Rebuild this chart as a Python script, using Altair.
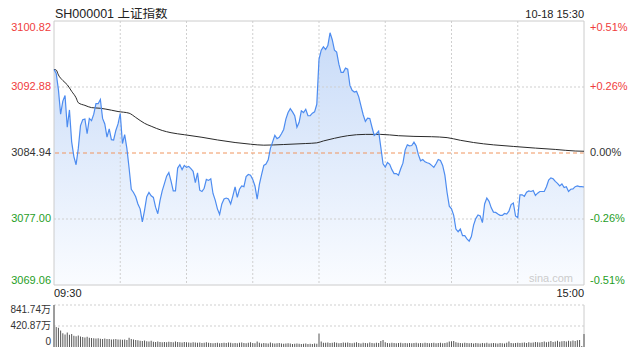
import altair as alt
import pandas as pd

# ---------------- data ----------------
title_text = "SH000001 上证指数"
stamp_text = "10-18 15:30"
prev_close = 3084.94
price_ticks = [3100.82, 3092.88, 3084.94, 3077.00, 3069.06]
price_tick_labels = ["3100.82", "3092.88", "3084.94", "3077.00", "3069.06"]
pct_labels = ["+0.51%", "+0.26%", "0.00%", "-0.26%", "-0.51%"]
time_ticks = [0, 240]
time_labels = ["09:30", "15:00"]
vol_ticks = [841.74, 420.87, 0]
vol_tick_labels = ["841.74万", "420.87万", "0"]
grid_minutes = [30, 60, 90, 120, 150, 180, 210]
watermark = "sina.com"

price = [
    3094.99, 3094.52, 3092.56, 3089.61, 3091.19, 3091.85, 3088.04, 3090.12, 3086.28, 3084.51,
    3083.53, 3085.49, 3088.24, 3088.95, 3089.02, 3087.26, 3089.10, 3088.83, 3089.61, 3090.87,
    3090.87, 3091.38, 3089.10, 3088.44, 3086.86, 3087.85, 3086.55, 3086.51, 3087.65, 3088.44,
    3089.69, 3086.08, 3087.14, 3085.49, 3083.13, 3080.58, 3080.19, 3079.68, 3078.81, 3078.22,
    3076.65, 3078.03, 3079.68, 3080.19, 3079.79, 3079.60, 3078.42, 3077.63, 3079.21, 3080.38,
    3081.25, 3082.15, 3082.58, 3081.56, 3080.38, 3080.38, 3083.13, 3083.53, 3082.94, 3083.45,
    3083.21, 3083.33, 3083.05, 3082.74, 3081.37, 3082.54, 3080.46, 3080.31, 3080.70, 3081.76,
    3081.64, 3081.84, 3080.07, 3079.28, 3078.22, 3077.56, 3078.81, 3079.40, 3079.52, 3079.40,
    3078.81, 3079.79, 3080.86, 3079.60, 3080.58, 3080.97, 3080.89, 3082.11, 3082.35, 3082.27,
    3081.76, 3080.97, 3079.40, 3081.17, 3082.35, 3083.45, 3083.60, 3084.12, 3085.49, 3086.28,
    3087.06, 3086.67, 3086.83, 3087.26, 3087.77, 3089.02, 3089.81, 3090.28, 3089.89, 3089.42,
    3088.04, 3088.63, 3090.01, 3089.81, 3090.20, 3089.42, 3089.42, 3089.73, 3089.89, 3090.80,
    3096.21, 3097.31, 3097.71, 3097.39, 3097.86, 3099.40, 3098.57, 3097.31, 3097.08, 3095.62,
    3094.64, 3094.64, 3095.15, 3095.03, 3093.07, 3092.48, 3092.28, 3092.36, 3091.70, 3090.60,
    3089.54, 3088.75, 3089.14, 3089.10, 3088.04, 3087.06, 3087.26, 3087.57, 3085.61, 3083.64,
    3083.25, 3083.80, 3083.57, 3082.94, 3082.47, 3082.47, 3082.27, 3083.05, 3083.72, 3085.29,
    3085.92, 3085.80, 3085.84, 3086.24, 3085.80, 3084.74, 3084.00, 3084.15, 3083.88, 3083.76,
    3083.68, 3083.45, 3083.21, 3083.64, 3084.15, 3084.04, 3083.45, 3082.27, 3080.19, 3078.54,
    3078.22, 3077.44, 3075.79, 3075.47, 3075.79, 3075.00, 3075.00, 3074.61, 3074.34, 3074.88,
    3076.26, 3077.05, 3077.48, 3077.36, 3076.57, 3078.81, 3079.52, 3079.13, 3078.34, 3077.83,
    3077.79, 3077.60, 3077.44, 3077.44, 3077.67, 3077.60, 3077.95, 3078.73, 3078.93, 3077.36,
    3077.16, 3079.91, 3079.91, 3079.72, 3080.23, 3080.38, 3080.31, 3080.42, 3079.83, 3080.11,
    3080.31, 3080.31, 3080.31, 3080.89, 3081.68, 3081.95, 3081.84, 3081.52, 3081.29, 3080.97,
    3081.21, 3080.78, 3080.89, 3080.31, 3080.58, 3080.62, 3080.89, 3080.97, 3080.89, 3080.89,
    3080.85,
]

avg_minutes = [0, 1, 2, 4, 6, 8, 10, 11, 14, 17, 21, 26, 29, 34, 37, 41, 44, 49, 53, 59,
               67, 74, 82, 89, 95, 104, 114, 119, 122, 127, 133, 141, 148, 156, 163, 171,
               178, 184, 190, 199, 208, 218, 227, 236, 240]
avg_values = [3094.99, 3094.92, 3094.33, 3093.66, 3093.15, 3092.36, 3091.58, 3090.99, 3090.67,
              3090.40, 3090.32, 3090.09, 3089.93, 3089.73, 3089.22, 3088.51, 3088.16, 3087.65,
              3087.38, 3087.14, 3086.83, 3086.51, 3086.20, 3086.00, 3085.88, 3085.96, 3086.08,
              3086.16, 3086.39, 3086.71, 3087.02, 3087.18, 3087.18, 3087.02, 3086.94, 3086.90,
              3086.79, 3086.47, 3086.20, 3085.92, 3085.73, 3085.53, 3085.37, 3085.18, 3085.15]

volume = [
    841.74, 400, 385, 330, 275, 250, 290, 245, 260, 225,
    215, 230, 210, 200, 190, 205, 185, 180, 175, 170,
    175, 165, 160, 170, 160, 160, 150, 155, 160, 150,
    150, 145, 150, 140, 185, 160, 150, 140, 135, 125,
    120, 130, 115, 110, 125, 105, 100, 110, 100, 95,
    100, 95, 105, 100, 95, 110, 100, 95, 90, 100,
    95, 90, 85, 95, 90, 85, 90, 80, 85, 95,
    85, 80, 75, 80, 85, 75, 80, 85, 80, 90,
    85, 75, 80, 75, 85, 90, 80, 75, 85, 95,
    80, 75, 110, 85, 70, 80, 75, 70, 90, 75,
    70, 75, 80, 70, 65, 70, 75, 70, 60, 65,
    70, 65, 60, 65, 70, 60, 65, 60, 70, 65,
    270,
    110, 85, 85, 90, 80, 85, 95, 85, 75, 80,
    90, 85, 90, 80, 75, 85, 95, 80, 70, 85,
    80, 75, 90, 80, 75, 85, 80, 120, 140, 95,
    80, 75, 85, 80, 75, 80, 85, 75, 80, 75,
    80, 75, 80, 85, 75, 80, 75, 85, 80, 75,
    80, 85, 75, 80, 85, 75, 80, 90, 110, 115,
    120, 95, 85, 80, 75, 85, 80, 75, 80, 70,
    80, 75, 70, 80, 75, 85, 70, 75, 80, 75,
    70, 80, 75, 70, 85, 110, 80, 75, 80, 85,
    80, 85, 90, 80, 95, 85, 90, 100, 95, 90,
    100, 110, 95, 105, 120, 100, 110, 125, 105, 115,
    120, 110, 125, 115, 130, 120, 135, 140, 20, 260,
]

# ---------------- tables ----------------
HI, LO = price_ticks[0], price_ticks[-1]
VMAX = vol_ticks[0]
df_price = pd.DataFrame({"m": list(range(len(price))), "p": price})
df_avg = pd.DataFrame({"m": avg_minutes, "p": avg_values})
df_vol = pd.DataFrame({"m": list(range(len(volume))), "v": volume})
df_ticks = pd.DataFrame({"p": price_ticks, "lab": price_tick_labels, "pct": pct_labels})
df_ticks["col"] = ["up" if v > prev_close + 0.01 else ("down" if v < prev_close - 0.01 else "flat")
                   for v in price_ticks]
df_vticks = pd.DataFrame({"v": vol_ticks, "lab": vol_tick_labels})

# ---------------- layout ----------------
W = 530
H = 326
MAIN_H = 264
VOL_TOP = 284
FONT = "Liberation Sans, Arial, Noto Sans CJK SC"
GRID = "#cfcfcf"
BORDER = "#cccccc"
RED, GREEN, FLAT = "#f03c3c", "#1f9e1f", "#333333"

xs = alt.Scale(domain=[0, 240], range=[0, W], nice=False, zero=False)
ys = alt.Scale(domain=[LO, HI], range=[MAIN_H, 0], nice=False, zero=False)
vs = alt.Scale(domain=[0, VMAX], range=[H, VOL_TOP], nice=False, zero=True)
colscale = alt.Scale(domain=["up", "flat", "down"], range=[RED, FLAT, GREEN])


def X(f):
    return alt.X(f, type="quantitative", scale=xs, axis=None)


def YP(f):
    return alt.Y(f, type="quantitative", scale=ys, axis=None)


def YV(f):
    return alt.Y(f, type="quantitative", scale=vs, axis=None)


gradient = alt.Gradient(
    gradient="linear",
    stops=[alt.GradientStop(color="#c8dbf8", offset=0),
           alt.GradientStop(color="#fafcff", offset=1)],
    x1=1, x2=1, y1=0, y2=1,
)

base_p = alt.Chart(df_price)
area = base_p.mark_area(color=gradient).encode(x=X("m"), y=YP("p"), y2=alt.datum(LO))
line = base_p.mark_line(color="#4d8cf0", strokeWidth=1.2).encode(x=X("m"), y=YP("p"))
avg = alt.Chart(df_avg).mark_line(color="#2a2a2a", strokeWidth=1, interpolate="monotone").encode(
    x=X("m"), y=YP("p"))

hgrid = alt.Chart(pd.DataFrame({"p": price_ticks[1:2] + price_ticks[3:4]})).mark_rule(
    color=GRID, strokeDash=[2, 2], strokeWidth=1).encode(y=YP("p"))
vgrid = alt.Chart(pd.DataFrame({"m": grid_minutes, "hi": HI, "lo": LO})).mark_rule(
    color=GRID, strokeDash=[2, 2], strokeWidth=1).encode(x=X("m"), y=YP("hi"), y2="lo")
pc_rule = alt.Chart(pd.DataFrame({"p": [prev_close]})).mark_rule(
    color="#f0955e", strokeDash=[4, 3], strokeWidth=1).encode(y=YP("p"))
hborder = alt.Chart(pd.DataFrame({"p": [HI, LO]})).mark_rule(
    color=BORDER, strokeWidth=1).encode(y=YP("p"))
vborder = alt.Chart(pd.DataFrame({"m": time_ticks, "hi": HI, "lo": LO})).mark_rule(
    color=BORDER, strokeWidth=1).encode(x=X("m"), y=YP("hi"), y2="lo")

ticks = alt.Chart(df_ticks)
left_top = ticks.transform_filter(alt.datum.p == HI).mark_text(
    align="right", baseline="top", font=FONT, fontSize=11, dy=1).encode(
    x=alt.value(-3), y=YP("p"), text="lab:N",
    color=alt.Color("col:N", scale=colscale, legend=None))
left_mid = ticks.transform_filter((alt.datum.p < HI) & (alt.datum.p > LO)).mark_text(
    align="right", baseline="middle", font=FONT, fontSize=11).encode(
    x=alt.value(-3), y=YP("p"), text="lab:N",
    color=alt.Color("col:N", scale=colscale, legend=None))
left_bot = ticks.transform_filter(alt.datum.p == LO).mark_text(
    align="right", baseline="alphabetic", font=FONT, fontSize=11, dy=-1).encode(
    x=alt.value(-3), y=YP("p"), text="lab:N",
    color=alt.Color("col:N", scale=colscale, legend=None))
right_top = left_top.encode(x=alt.value(W + 6), text="pct:N").mark_text(
    align="left", baseline="top", font=FONT, fontSize=11, dy=1)
right_mid = left_mid.encode(x=alt.value(W + 6), text="pct:N").mark_text(
    align="left", baseline="middle", font=FONT, fontSize=11)
right_bot = left_bot.encode(x=alt.value(W + 6), text="pct:N").mark_text(
    align="left", baseline="alphabetic", font=FONT, fontSize=11, dy=-1)

wm = alt.Chart(pd.DataFrame({"t": [watermark]})).mark_text(
    align="right", baseline="middle", font=FONT, fontSize=11, color="#cccccc").encode(
    x=alt.value(W - 11), y=alt.value(MAIN_H - 6), text="t:N")

price_layer = alt.layer(area, hgrid, vgrid, pc_rule, hborder, vborder, avg, line,
                        left_top, left_mid, left_bot, right_top, right_mid, right_bot, wm)

# volume
bars = alt.Chart(df_vol).mark_rule(color="#555555", strokeWidth=1).encode(
    x=X("m"), y=YV("v"), y2=alt.datum(0))
vgrid2 = alt.Chart(pd.DataFrame({"v": vol_ticks[:2]})).mark_rule(
    color=GRID, strokeDash=[2, 2], strokeWidth=1).encode(y=YV("v"))
vborder2 = alt.Chart(pd.DataFrame({"m": time_ticks, "hi": VMAX, "lo": 0})).mark_rule(
    color=BORDER, strokeWidth=1).encode(x=X("m"), y=YV("hi"), y2="lo")
vt = alt.Chart(df_vticks)
VFS = 10
vlab_top = vt.transform_filter(alt.datum.v == VMAX).mark_text(
    align="right", baseline="top", font=FONT, fontSize=VFS, color="#333333", dy=0).encode(
    x=alt.value(-3), y=YV("v"), text="lab:N")
vlab_mid = vt.transform_filter((alt.datum.v < VMAX) & (alt.datum.v > 0)).mark_text(
    align="right", baseline="middle", font=FONT, fontSize=VFS, color="#333333").encode(
    x=alt.value(-3), y=YV("v"), text="lab:N")
vlab_bot = vt.transform_filter(alt.datum.v == 0).mark_text(
    align="right", baseline="alphabetic", font=FONT, fontSize=VFS, color="#333333", dy=-2).encode(
    x=alt.value(-3), y=YV("v"), text="lab:N")
vol_layer = alt.layer(vgrid2, vborder2, bars, vlab_top, vlab_mid, vlab_bot)

# header and time labels
head = alt.Chart(pd.DataFrame({"t": [title_text]})).mark_text(
    align="left", baseline="top", font=FONT, fontSize=12.5, color="#222222").encode(
    x=alt.value(1), y=alt.value(-13), text="t:N")
stamp = alt.Chart(pd.DataFrame({"t": [stamp_text]})).mark_text(
    align="right", baseline="top", font=FONT, fontSize=11, color="#222222").encode(
    x=alt.value(W), y=alt.value(-12), text="t:N")
tl = alt.Chart(pd.DataFrame({"m": time_ticks, "t": time_labels}))
tl_left = tl.transform_filter(alt.datum.m == 0).mark_text(
    align="left", baseline="middle", font=FONT, fontSize=11, color="#222222").encode(
    x=X("m"), y=alt.value(MAIN_H + 9), text="t:N")
tl_right = tl.transform_filter(alt.datum.m == 240).mark_text(
    align="right", baseline="middle", font=FONT, fontSize=11, color="#222222").encode(
    x=X("m"), y=alt.value(MAIN_H + 9), text="t:N")

chart = alt.layer(price_layer, vol_layer, head, stamp, tl_left, tl_right).resolve_scale(
    y="independent"
).properties(
    width=W, height=H,
    padding={"left": 46, "top": 13, "right": 48, "bottom": 1},
    autosize=alt.AutoSizeParams(type="none"),
).configure_view(stroke=None)

chart.save("out.html", embed_options={"renderer": "svg", "actions": False})
